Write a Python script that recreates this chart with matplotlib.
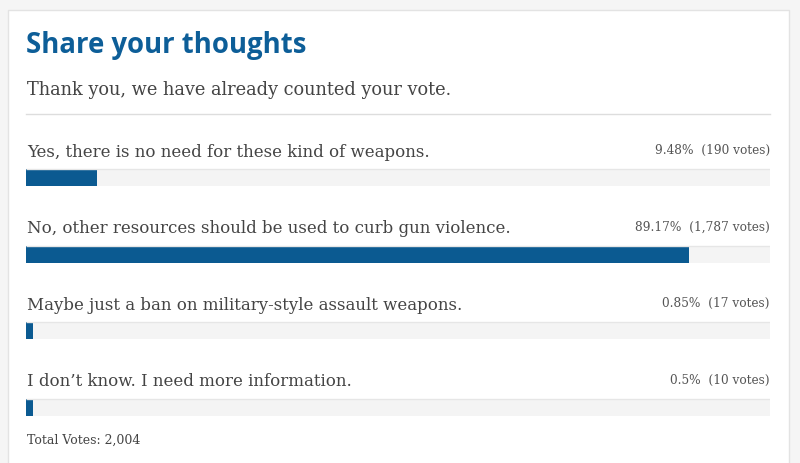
import matplotlib
matplotlib.use("Agg")
import matplotlib.pyplot as plt
from matplotlib.patches import Rectangle

title = "Share your thoughts"
subtitle = "Thank you, we have already counted your vote."
options = [
    "Yes, there is no need for these kind of weapons.",
    "No, other resources should be used to curb gun violence.",
    "Maybe just a ban on military-style assault weapons.",
    "I don\u2019t know. I need more information.",
]
percents = [9.48, 89.17, 0.85, 0.5]
percent_labels = ["9.48%", "89.17%", "0.85%", "0.5%"]
votes = [190, 1787, 17, 10]
total_votes = 2004

W, H = 800, 463
fig = plt.figure(figsize=(W / 100, H / 100), dpi=100)
fig.patch.set_facecolor("#f5f5f5")

bg = fig.add_axes([0, 0, 1, 1])
bg.set_xlim(0, W)
bg.set_ylim(H, 0)
bg.axis("off")
bg.add_patch(Rectangle((7.5, 9.5), 781, 470, facecolor="white", edgecolor="#e3e3e3", lw=1))

serif = ["DejaVu Serif"]
bg.text(26, 45, title, fontsize=19.8, fontweight="bold", family=["Open Sans", "DejaVu Sans"],
        color="#0d5e98", va="center", ha="left")
bg.text(27, 90, subtitle, fontsize=12.8, family=serif, color="#444444", va="center", ha="left")
bg.plot([26, 770], [114, 114], color="#dddddd", lw=1)
bg.text(27, 440, f"Total Votes: {total_votes:,}", fontsize=9.0, family=serif,
        color="#444444", va="center", ha="left")

# bar axes
x0, x1 = 26, 770
ytop, ybot = 139.25, 445.25
ax = fig.add_axes([x0 / W, 1 - ybot / H, (x1 - x0) / W, (ybot - ytop) / H])
ax.set_xlim(0, 100)
ax.set_ylim(3.5, -0.5)
ax.axis("off")
ax.patch.set_alpha(0)

ypos = list(range(len(options)))
bh = 17 / 76.5
ax.barh(ypos, [100] * len(options), height=bh, left=0, color="#f4f4f4", edgecolor="none")
for y in ypos:
    ax.plot([0, 100], [y - bh / 2, y - bh / 2], color="#e6e6e6", lw=1, solid_capstyle="butt")
shown = [max(p, 0.95) for p in percents]
ax.barh(ypos, shown, height=bh, left=0, color="#0b5a91", edgecolor="none")

for y, lab, pl, v in zip(ypos, options, percent_labels, votes):
    ax.text(0.1, y - 0.333, lab, fontsize=11.95, family=serif, color="#444444",
            va="center", ha="left")
    ax.text(100, y - 0.35, f"{pl}  ({v:,} votes)", fontsize=8.7, family=serif,
            color="#555555", va="center", ha="right")

fig.savefig("out.png", dpi=100, facecolor=fig.get_facecolor())
